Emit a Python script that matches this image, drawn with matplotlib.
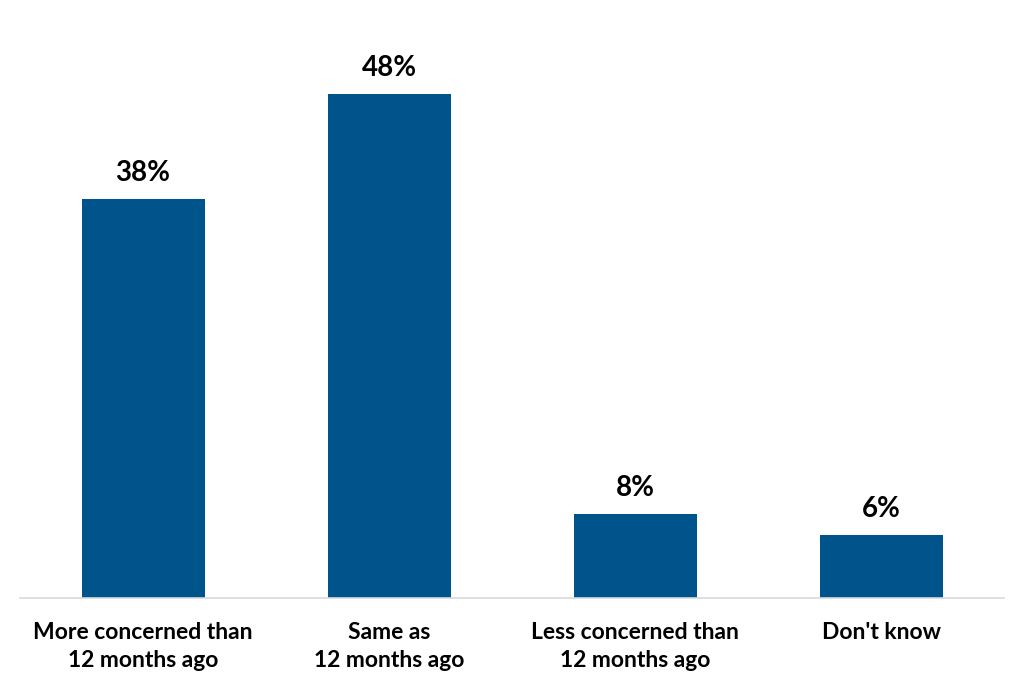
import matplotlib.pyplot as plt

categories = ['More concerned than\n12 months ago', 'Same as\n12 months ago',
              'Less concerned than\n12 months ago', "Don't know"]
values = [38, 48, 8, 6]

plt.rcParams['font.family'] = ['Lato', 'DejaVu Sans']

fig = plt.figure(figsize=(10.24, 6.85), dpi=100)
ax = fig.add_axes([20 / 1024, 87 / 685, 984 / 1024, 546 / 685])

x = range(len(categories))
ax.bar(x, values, width=0.5, color='#00548C')

for xi, v in zip(x, values):
    ax.text(xi, v + 1.2, f'{v}%', ha='center', va='bottom',
            fontsize=20, fontweight='bold', color='black')

ax.set_xlim(-0.5, 3.5)
ax.set_ylim(0, 52)
ax.set_xticks(list(x))
ax.set_xticklabels(categories, fontsize=16.5, fontweight='bold', linespacing=1.45)
ax.tick_params(axis='x', length=0, pad=17)
ax.set_yticks([])

for side in ['top', 'right', 'left']:
    ax.spines[side].set_visible(False)
ax.spines['bottom'].set_color('#D9D9D9')
ax.spines['bottom'].set_linewidth(1.2)

plt.savefig('out.png', dpi=100)
